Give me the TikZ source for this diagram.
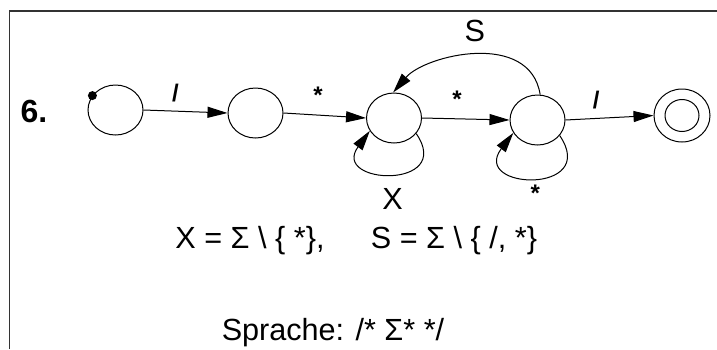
\documentclass[tikz,border=0pt]{standalone}
\usepackage{fontspec}
\setmainfont{Liberation Sans}
\usetikzlibrary{arrows.meta, positioning, shapes.geometric}
\tikzset{
  zustand/.style={
    draw, ellipse, line width=0.5pt, inner sep=0pt,
    minimum width=27.5pt, minimum height=25pt,
  },
  uebergang/.style={
    -{Triangle[length=10pt, width=5.5pt]}, line width=0.5pt,
  },
  kantenlabel/.style={font=\fontsize{12}{14}\selectfont\bfseries},
  grosslabel/.style={font=\fontsize{15.3}{18}\selectfont},
}

\begin{document}
\begin{tikzpicture}[x=0.5pt, y=-0.5pt]
\useasboundingbox (0,0) rectangle (717,349);

% frame
\draw[line width=0.75pt, black!80] (9.5,349) -- (9.5,11) -- (717,11);

% =========================================================================
% states
% =========================================================================
\node[font=\fontsize{16}{18}\selectfont\bfseries] (nummer) at (34,111) {6.};

\node[zustand] (q0) at (115.5,110) {};
\node[zustand] (q1) at (255.5,113) {};
\node[zustand] (q2) at (394,118) {};
\node[zustand] (q3) at (537.5,120) {};
\node[zustand, minimum width=28pt, minimum height=26.5pt] (q4) at (682,115.5) {};
\node[zustand, minimum width=17pt, minimum height=16pt] (q4i) at (q4.center) {};

\node[circle, fill, inner sep=0pt, minimum size=4.5pt] (start) at (q0.148) {};

% =========================================================================
% transitions
% =========================================================================
\draw[uebergang] (q0.east) -- node[kantenlabel, pos=.38, above=1pt] {/} (q1.west);
\draw[uebergang] (q1.east) -- node[kantenlabel, pos=.42, above=2pt] {*} (q2.west);
\draw[uebergang] (q2.east) -- node[kantenlabel, pos=.40, above=2pt] {*} (q3.west);
\draw[uebergang] (q3.east) -- node[kantenlabel, pos=.35, above=1pt] {/} (q4.west);

\draw[uebergang] (q3.84) .. controls (530,30) and (425,55) .. node[grosslabel, above=3pt] {S} (q2.92);

\draw[uebergang] (q2.-35) .. controls (455,190) and (330,185) .. node[grosslabel, below=4pt] {X} (q2.-152);
\draw[uebergang] (q3.-35) .. controls (600,195) and (470,190) .. node[kantenlabel, below=0pt] {*} (q3.-152);

% =========================================================================
% text
% =========================================================================
\node[grosslabel] (defx) at (250,241) {X = Σ \textbackslash\ \{ *\},};
\node[grosslabel] (defs) at (454,241) {S = Σ \textbackslash\ \{ /, *\}};
\node[grosslabel] (sprache) at (333,333) {Sprache: /* Σ* */};

\end{tikzpicture}
\end{document}
